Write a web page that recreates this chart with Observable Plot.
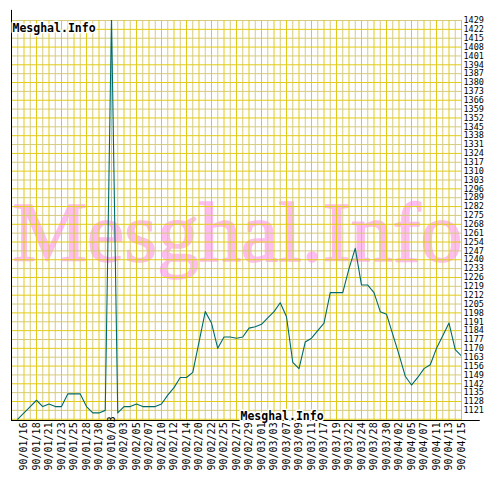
<!DOCTYPE html>
<html>
<head>
<meta charset="utf-8">
<script src="https://cdn.jsdelivr.net/npm/d3@7"></script>
<script src="https://cdn.jsdelivr.net/npm/@observablehq/plot@0.6"></script>
<style>
  html, body { margin: 0; padding: 0; background: #ffffff; }
  #chart svg { display: block; }
</style>
</head>
<body>
<div id="chart"></div>
<script>
// Series values, one per trading day (left to right)
const values = [
  1114, 1119, 1124, 1129, 1124, 1126, 1124, 1124, 1134, 1134,
  1134, 1124, 1119, 1119, 1121, 1432, 1119, 1124, 1124, 1126,
  1124, 1124, 1124, 1126, 1133, 1139, 1147, 1147, 1151, 1175,
  1199, 1190, 1170, 1179, 1179, 1178, 1179, 1186, 1187, 1189,
  1194, 1199, 1206, 1195, 1159, 1154, 1175, 1178, 1184, 1190,
  1214, 1214, 1214, 1233, 1249, 1220, 1220, 1214, 1199, 1197,
  1181, 1165, 1148, 1141, 1147, 1154, 1157, 1170, 1180, 1190,
  1169, 1164
];

// Date labels (every second point)
const dateLabels = [
  "90/01/16", "90/01/18", "90/01/21", "90/01/23", "90/01/25", "90/01/28",
  "90/01/30", "90/010/03", "90/02/03", "90/02/05", "90/02/07", "90/02/10",
  "90/02/12", "90/02/14", "90/02/20", "90/02/22", "90/02/25", "90/02/27",
  "90/02/29", "90/03/01", "90/03/03", "90/03/07", "90/03/09", "90/03/11",
  "90/03/17", "90/03/19", "90/03/22", "90/03/24", "90/03/28", "90/03/30",
  "90/04/02", "90/04/05", "90/04/07", "90/04/11", "90/04/13", "90/04/15"
];

// Right-hand tick labels
const yTicks = [
  1121, 1128, 1135, 1142, 1149, 1156, 1163, 1170, 1177, 1184, 1191, 1198,
  1205, 1212, 1219, 1226, 1233, 1240, 1247, 1254, 1261, 1268, 1275, 1282,
  1289, 1296, 1303, 1310, 1317, 1324, 1331, 1338, 1345, 1352, 1359, 1366,
  1373, 1380, 1387, 1394, 1401, 1408, 1415, 1422, 1429
];

const watermark = "Mesghal.Info";

// Derived tables
const series = values.map((v, i) => ({k: i + 1, v}));
const labelRows = dateLabels.map((t, i) => ({k: 2 * (i + 1), t}));
const nCols = values.length;               // 72 columns
const gridX = d3.range(0, nCols + 1);      // one grid column per point
const gridY = [1114, ...yTicks];
const yMin = 1113, yMax = 1429;

const monoFont = "DejaVu Sans Mono";
const yellow = "#e2cb18";
const pale = "#d6cb7e";

const chart = Plot.plot({
  width: 500,
  height: 500,
  marginLeft: 11,
  marginRight: 39,
  marginTop: 20,
  marginBottom: 80,
  style: {background: "#ffffff", overflow: "visible"},
  x: {domain: [0, nCols], axis: null},
  y: {domain: [yMin, yMax], axis: null},
  marks: [
    // pink watermark
    Plot.text([watermark], {
      frameAnchor: "middle", text: d => d, dx: 1, dy: 40,
      lineAnchor: "bottom", textAnchor: "middle",
      fontFamily: "Liberation Serif", fontSize: 84,
      fill: "#ffbdf0", stroke: "#ffbdf0", strokeWidth: 1.6
    }),
    // grid
    Plot.ruleX(gridX.filter(d => d % 2 === 1), {stroke: pale, strokeWidth: 1}),
    Plot.ruleY(gridY.filter((d, i) => i % 2 === 1), {stroke: pale, strokeWidth: 1}),
    Plot.ruleX(gridX.filter(d => d % 2 === 0), {stroke: yellow, strokeWidth: 1}),
    Plot.ruleY(gridY.filter((d, i) => i % 2 === 0), {stroke: yellow, strokeWidth: 1}),
    // axes lines
    Plot.ruleX([0], {y1: yMin, y2: 1437, stroke: "#000", strokeWidth: 1}),
    Plot.ruleY([yMin], {x1: 0, x2: 75, stroke: "#000", strokeWidth: 1}),
    // series line
    Plot.line(series, {x: "k", y: "v", stroke: "#006a6a", strokeWidth: 1.1, clip: true}),
    // small watermark labels
    Plot.text([watermark], {
      frameAnchor: "top-left", text: d => d, dx: 1, dy: 11.5,
      lineAnchor: "bottom", textAnchor: "start",
      fontFamily: monoFont, fontWeight: "bold", fontSize: 11.5,
      fill: "#000", stroke: "#fff", strokeWidth: 3
    }),
    Plot.text([watermark], {
      frameAnchor: "bottom-left", text: d => d, dx: 229, dy: -1,
      lineAnchor: "bottom", textAnchor: "start",
      fontFamily: monoFont, fontWeight: "bold", fontSize: 11.5,
      fill: "#000", stroke: "#fff", strokeWidth: 3
    }),
    // right tick labels
    Plot.text(yTicks, {
      y: d => d, frameAnchor: "right", text: d => String(d), dx: 2,
      textAnchor: "start", lineAnchor: "middle",
      fontFamily: monoFont, fontSize: 8.5, fill: "#000"
    }),
    // rotated date labels
    Plot.text(labelRows, {
      x: "k", frameAnchor: "bottom", text: "t", dy: 50,
      rotate: -90, textAnchor: "start", lineAnchor: "middle",
      fontFamily: monoFont, fontSize: 10, fill: "#000"
    })
  ]
});
document.getElementById("chart").appendChild(chart);
</script>
</body>
</html>
